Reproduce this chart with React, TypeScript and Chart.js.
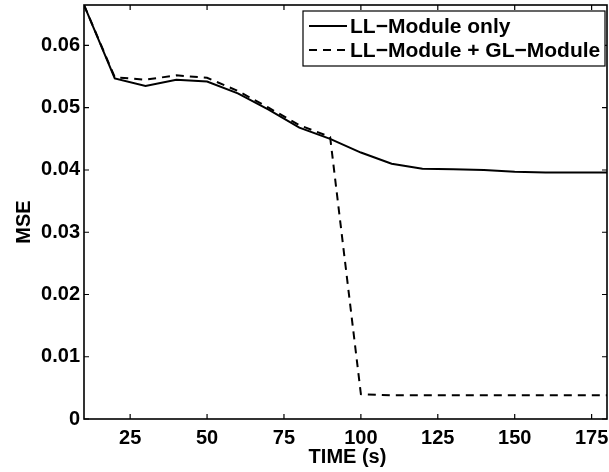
import React, { useEffect, useRef } from "react";
import { Chart, registerables } from "chart.js";

Chart.register(...registerables);

const TIME = [10, 20, 30, 40, 50, 60, 70, 80, 90, 100, 110, 120, 130, 140, 150, 160, 170, 180];
const LL_ONLY = [0.0665, 0.0547, 0.0535, 0.0545, 0.0542, 0.0523, 0.0497, 0.0468, 0.0450, 0.0428, 0.0410, 0.0402, 0.0401, 0.0400, 0.0397, 0.0396, 0.0396, 0.0396];
const LL_GL = [0.0665, 0.0549, 0.0545, 0.0552, 0.0548, 0.0527, 0.0500, 0.0472, 0.0453, 0.0040, 0.0038, 0.0038, 0.0038, 0.0038, 0.0038, 0.0038, 0.0038, 0.0038];
const X_TICKS = [25, 50, 75, 100, 125, 150, 175];
const Y_TICKS = [0, 0.01, 0.02, 0.03, 0.04, 0.05, 0.06];
const SERIES_NAMES = ["LL\u2212Module only", "LL\u2212Module + GL\u2212Module"];
const X_TITLE = "TIME (s)";
const Y_TITLE = "MSE";

const FONT = "'Liberation Sans', Arial, Helvetica, sans-serif";

const framePlugin = {
  id: "matlabFrame",
  afterDraw(chart: any) {
    const ctx = chart.ctx;
    const { left, right, top, bottom } = chart.chartArea;
    const xs = chart.scales.x;
    const ys = chart.scales.y;
    ctx.save();
    ctx.strokeStyle = "#000";
    ctx.lineWidth = 1.6;
    ctx.strokeRect(left, top, right - left, bottom - top);
    ctx.lineWidth = 1.2;
    const tl = 5;
    ctx.beginPath();
    X_TICKS.forEach((v) => {
      const px = xs.getPixelForValue(v);
      ctx.moveTo(px, bottom);
      ctx.lineTo(px, bottom - tl);
      ctx.moveTo(px, top);
      ctx.lineTo(px, top + tl);
    });
    Y_TICKS.forEach((v) => {
      const py = ys.getPixelForValue(v);
      ctx.moveTo(left, py);
      ctx.lineTo(left + tl, py);
      ctx.moveTo(right, py);
      ctx.lineTo(right - tl, py);
    });
    ctx.stroke();

    // axis titles
    ctx.fillStyle = "#000";
    ctx.font = `bold 20px ${FONT}`;
    ctx.textAlign = "center";
    ctx.textBaseline = "alphabetic";
    ctx.fillText(X_TITLE, (left + right) / 2 + 2, 463);
    ctx.save();
    ctx.translate(30, (top + bottom) / 2 + 10);
    ctx.rotate(-Math.PI / 2);
    ctx.fillText(Y_TITLE, 0, 0);
    ctx.restore();

    // legend
    const bx = 303, by = 11, bw = 302, bh = 55;
    ctx.fillStyle = "#fff";
    ctx.fillRect(bx, by, bw, bh);
    ctx.lineWidth = 1.2;
    ctx.strokeRect(bx, by, bw, bh);
    ctx.font = `bold 21px ${FONT}`;
    ctx.textAlign = "left";
    ctx.fillStyle = "#000";
    const rows = [by + 22, by + 46];
    const dashes: number[][] = [[], [8, 6]];
    SERIES_NAMES.forEach((name, i) => {
      const y = rows[i];
      ctx.setLineDash(dashes[i]);
      ctx.lineWidth = 2;
      ctx.beginPath();
      ctx.moveTo(bx + 6, y - 7);
      ctx.lineTo(bx + 44, y - 7);
      ctx.stroke();
      ctx.setLineDash([]);
      ctx.fillText(name, bx + 47, y);
    });
    ctx.restore();
  },
};

export default function App() {
  const ref = useRef<HTMLCanvasElement>(null);
  useEffect(() => {
    if (!ref.current) return;
    const chart = new Chart(ref.current, {
      type: "line",
      data: {
        datasets: [
          {
            label: SERIES_NAMES[0],
            data: TIME.map((t, i) => ({ x: t, y: LL_ONLY[i] })),
            borderColor: "#000",
            borderWidth: 2,
            pointRadius: 0,
            tension: 0,
            fill: false,
          },
          {
            label: SERIES_NAMES[1],
            data: TIME.map((t, i) => ({ x: t, y: LL_GL[i] })),
            borderColor: "#000",
            borderWidth: 2,
            borderDash: [8, 6],
            pointRadius: 0,
            tension: 0,
            fill: false,
          },
        ],
      },
      options: {
        animation: false,
        responsive: false,
        maintainAspectRatio: false,
        layout: { padding: { top: 5, right: 2, left: 0, bottom: 0 } },
        plugins: { legend: { display: false }, tooltip: { enabled: false } },
        scales: {
          x: {
            type: "linear",
            min: 10,
            max: 180,
            grid: { display: false, drawTicks: false },
            border: { display: false },
            afterBuildTicks: (s: any) => {
              s.ticks = X_TICKS.map((v) => ({ value: v }));
            },
            afterFit: (s: any) => {
              s.height = 53;
              s.paddingLeft = 0;
              s.paddingRight = 0;
              s.paddingTop = 0;
              s.paddingBottom = 0;
            },
            ticks: {
              autoSkip: false,
              maxRotation: 0,
              color: "#000",
              padding: 7,
              font: { family: FONT, size: 20, weight: "bold" },
              callback: (v: any) => String(v),
            },
          },
          y: {
            type: "linear",
            min: 0,
            max: 0.0665,
            grid: { display: false, drawTicks: false },
            border: { display: false },
            afterBuildTicks: (s: any) => {
              s.ticks = Y_TICKS.map((v) => ({ value: v }));
            },
            afterFit: (s: any) => {
              s.width = 84;
              s.paddingLeft = 0;
              s.paddingRight = 0;
              s.paddingTop = 0;
              s.paddingBottom = 0;
            },
            ticks: {
              autoSkip: false,
              color: "#000",
              padding: 4,
              font: { family: FONT, size: 20, weight: "bold" },
              callback: (v: any) => (v === 0 ? "0" : Number(v).toFixed(2)),
            },
          },
        },
      },
      plugins: [framePlugin],
    } as any);
    return () => chart.destroy();
  }, []);
  return (
    <div style={{ position: "fixed", left: 0, top: 0, width: 609, height: 472, background: "#fff" }}>
      <canvas ref={ref} width={609} height={472} style={{ display: "block" }} />
    </div>
  );
}
